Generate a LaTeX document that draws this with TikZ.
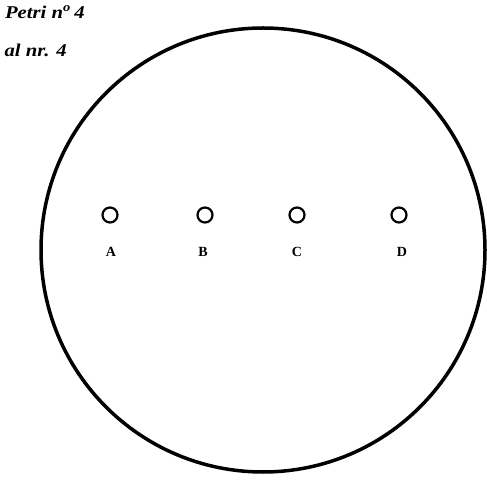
\documentclass[tikz,border=0pt]{standalone}
\usepackage{fontspec}
\setmainfont{Liberation Serif}
\begin{document}
\begin{tikzpicture}[x=1pt,y=1pt,
  dish/.style={draw,line width=3.5pt},
  well/.style={draw,circle,line width=2.2pt,minimum size=15pt,inner sep=0pt},
  lbl/.style={font=\bfseries\fontsize{14}{16}\selectfont},
  captxt/.style={font=\bfseries\itshape\fontsize{18}{20}\selectfont,anchor=east,inner sep=0pt,xscale=1.15}]
\useasboundingbox (0,0) rectangle (487,479);
\node[dish,circle,minimum size=444pt,inner sep=0pt] (dishc) at (263,229) {};
\node[captxt] (t1) at (85,467) {Petri n\textsuperscript{o}\,4};
\node[captxt] (t2) at (67,429) {al nr. 4};
\node[well] (wa) at (110,264) {};
\node[well] (wb) at (205,264) {};
\node[well] (wc) at (297,264) {};
\node[well] (wd) at (399,264) {};
\node[lbl] (la) at (111,227) {A};
\node[lbl] (lb) at (203,227) {B};
\node[lbl] (lc) at (297,227) {C};
\node[lbl] (ld) at (402,227) {D};
\end{tikzpicture}
\end{document}
